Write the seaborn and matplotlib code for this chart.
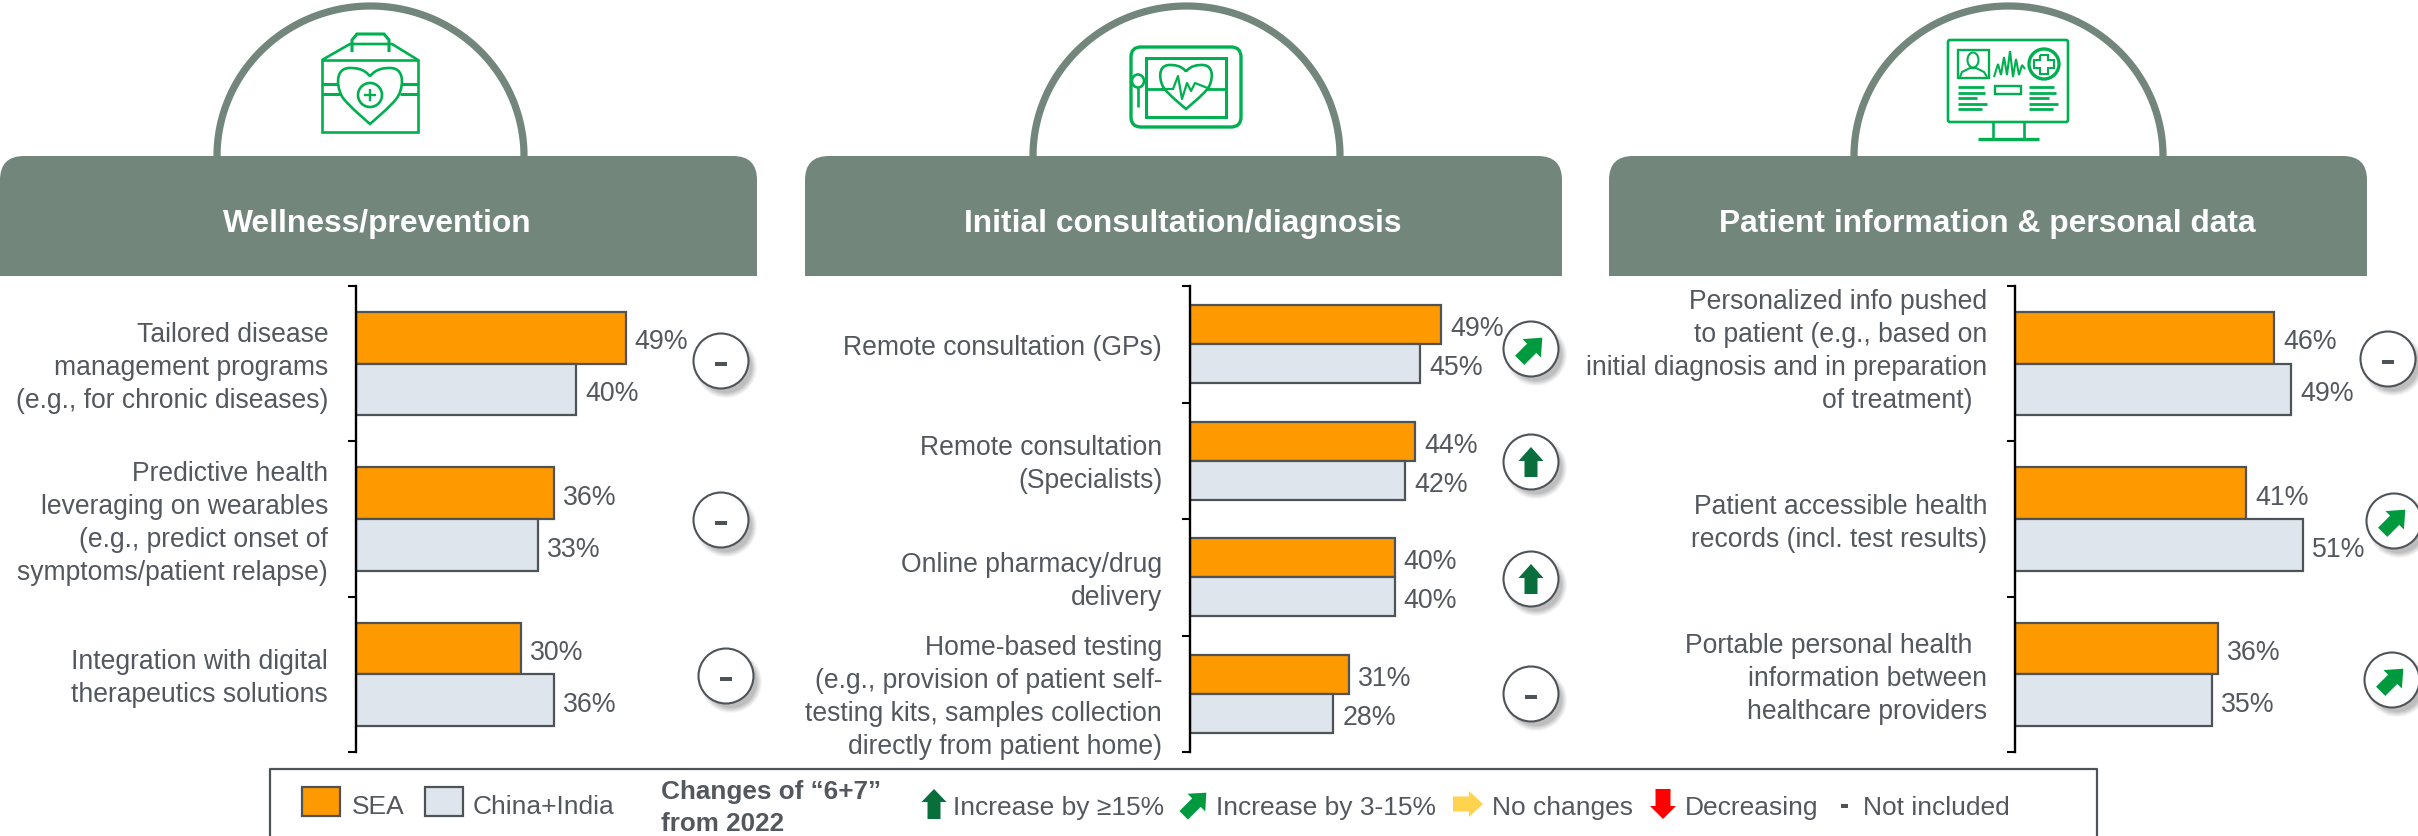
import numpy as np
import pandas as pd
import matplotlib
matplotlib.use("Agg")
import matplotlib.pyplot as plt
import seaborn as sns
from matplotlib.patches import Polygon, Ellipse, Rectangle, FancyBboxPatch, PathPatch, Circle
from matplotlib.path import Path

# ---------- data ----------
series_names = ["SEA", "China+India"]
panel_titles = ["Wellness/prevention", "Initial consultation/diagnosis", "Patient information & personal data"]

labels_wellness = ["Tailored disease\nmanagement programs\n(e.g., for chronic diseases)",
                   "Predictive health\nleveraging on wearables\n(e.g., predict onset of\nsymptoms/patient relapse)",
                   "Integration with digital\ntherapeutics solutions"]
sea_wellness = [49, 36, 30]
ci_wellness = [40, 33, 36]
change_wellness = ["none", "none", "none"]

labels_consult = ["Remote consultation (GPs)",
                  "Remote consultation\n(Specialists)",
                  "Online pharmacy/drug\ndelivery",
                  "Home-based testing\n(e.g., provision of patient self-\ntesting kits, samples collection\ndirectly from patient home)"]
sea_consult = [49, 44, 40, 31]
ci_consult = [45, 42, 40, 28]
change_consult = ["mid", "high", "high", "none"]

labels_patient = ["Personalized info pushed\nto patient (e.g., based on\ninitial diagnosis and in preparation\nof treatment)\u00a0\u00a0\n ",
                  "Patient accessible health\nrecords (incl. test results)",
                  "Portable personal health\u00a0\u00a0\ninformation between\nhealthcare providers"]
sea_patient = [46, 41, 36]
ci_patient = [49, 51, 35]
change_patient = ["none", "mid", "mid"]

legend_changes = ["Increase by \u226515%", "Increase by 3-15%", "No changes", "Decreasing", "Not included"]

# ---------- style ----------
W, H = 2418, 837
ORANGE, GREY = "#FF9900", "#DEE5EC"
EDGE, TXT = "#4E5358", "#53585F"
HEAD = "#72867C"
ICON = "#00B050"
DKGREEN, MIDGREEN, YELLOW, RED = "#086E3C", "#009A3E", "#FFD34D", "#FF0000"
FS = 19

sns.set_theme(style="white")
plt.rcParams["font.family"] = ["Liberation Sans", "DejaVu Sans"]
fig = plt.figure(figsize=(W / 100, H / 100), dpi=100, facecolor="white")

# overlay in pixel coordinates for the decoration
ov = fig.add_axes([0, 0, 1, 1], zorder=0)
ov.set_xlim(0, W); ov.set_ylim(H, 0); ov.axis("off")

def px_ax(x0, x1, y0, y1):
    return fig.add_axes([x0 / W, 1 - y1 / H, (x1 - x0) / W, (y1 - y0) / H], zorder=1, facecolor="none")

def bars(x0, pct_px, cats, sea, ci):
    xmax = 62
    ax = px_ax(x0, x0 + xmax * pct_px, 287, 753)
    df = pd.DataFrame({"cat": list(cats) * 2,
                       "val": list(sea) + list(ci),
                       "series": [series_names[0]] * len(sea) + [series_names[1]] * len(ci)})
    sns.barplot(data=df, y="cat", x="val", hue="series", hue_order=series_names,
                palette=[ORANGE, GREY], width=0.667, gap=0, dodge=True, legend=False,
                edgecolor=EDGE, linewidth=1.6, saturation=1, errorbar=None, ax=ax)
    for c in ax.containers:
        for t in ax.bar_label(c, fmt="%.0f%%", padding=6, color=TXT, fontsize=19.3):
            t.xyann = (6.5, -2.6)
    n = len(cats)
    ax.set_xlim(0, xmax); ax.set_ylim(n - 0.5, -0.5)
    ax.set_xticks([]); ax.set_xlabel(""); ax.set_ylabel("")
    ax.set_yticks(np.arange(n + 1) - 0.5, [""] * (n + 1))
    ax.set_yticks(np.arange(n) + 3.2 * n / 466, cats, minor=True)
    ax.tick_params(axis="y", which="major", length=6, width=1.5, color="black", left=True)
    ax.tick_params(axis="y", which="minor", length=0, pad=20, labelsize=19.1, labelcolor=TXT)
    for t in ax.get_yticklabels(minor=True):
        t.set_linespacing(1.35); t.set_ha("right"); t.set_multialignment("right"); t.set_va("center")
    for s in ["top", "right", "bottom"]:
        ax.spines[s].set_visible(False)
    ax.spines["left"].set_color("black"); ax.spines["left"].set_linewidth(1.7)
    return ax

bars(356, 5.5, labels_wellness, sea_wellness, ci_wellness)
bars(1190, 5.12, labels_consult, sea_consult, ci_consult)
bars(2015, 5.64, labels_patient, sea_patient, ci_patient)

# headers + arches
def header(x0, x1, a0, a1, title):
    t = np.linspace(np.pi, 0, 120)
    cx, rx = (a0 + a1) / 2, (a1 - a0) / 2 - 4
    ov.plot(cx + rx * np.cos(t), 157 - 150 * np.sin(t), color=HEAD, lw=5.2, solid_capstyle="butt", zorder=1)
    r = 24
    verts = [(x0, 277), (x0, 157 + r), (x0, 157), (x0 + r, 157), (x1 - r, 157), (x1, 157), (x1, 157 + r), (x1, 277), (x0, 277)]
    codes = [Path.MOVETO, Path.LINETO, Path.CURVE3, Path.CURVE3, Path.LINETO, Path.CURVE3, Path.CURVE3, Path.LINETO, Path.CLOSEPOLY]
    ov.add_patch(PathPatch(Path(verts, codes), fc=HEAD, ec="none", zorder=2))
    ov.text((x0 + x1) / 2 - 1, 224, title, color="white", fontsize=22.9, fontweight="bold", ha="center", va="center", zorder=3)

header(0, 757, 213, 528, panel_titles[0])
header(805, 1562, 1029, 1344, panel_titles[1])
header(1609, 2367, 1850, 2167, panel_titles[2])

# icons
def ln(xs, ys, lw=1.9):
    ov.plot(xs, ys, color=ICON, lw=lw, solid_capstyle="butt", solid_joinstyle="miter", zorder=3)

def box(x0, y0, x1, y1, lw=1.9, round_=0):
    if round_:
        ov.add_patch(FancyBboxPatch((x0 + round_, y0 + round_), x1 - x0 - 2 * round_, y1 - y0 - 2 * round_,
                                    boxstyle=f"round,pad={round_},rounding_size={round_}", fc="none", ec=ICON, lw=lw, zorder=3))
    else:
        ov.add_patch(Rectangle((x0, y0), x1 - x0, y1 - y0, fc="none", ec=ICON, lw=lw, zorder=3))

def heart(cx, top, bottom, hw, lw=1.9):
    h = bottom - top
    d = top + 0.15 * h
    v2 = [(cx, d), (cx - .2 * hw, top), (cx - .5 * hw, top), (cx - .65 * hw, top),
          (cx - hw * 1.2, top), (cx - hw * 1.05, top + .42 * h), (cx - .85 * hw, top + .55 * h),
          (cx - .6 * hw, top + .72 * h), (cx - .2 * hw, top + .9 * h), (cx, bottom),
          (cx + .2 * hw, top + .9 * h), (cx + .6 * hw, top + .72 * h), (cx + .85 * hw, top + .55 * h),
          (cx + hw * 1.05, top + .42 * h), (cx + hw * 1.2, top), (cx + .65 * hw, top),
          (cx + .5 * hw, top), (cx + .2 * hw, top), (cx, d)]
    c2 = [Path.MOVETO] + [Path.CURVE4] * 18
    ov.add_patch(PathPatch(Path(v2, c2), fc="white", ec=ICON, lw=lw, zorder=4))

# icon 1: medical bag
box(322, 61, 418, 133)
ln([322, 350, 392, 418], [61, 45, 45, 61])
ln([352, 352, 357, 384, 389, 389], [53, 41, 35, 35, 41, 53], lw=2.2)
for yy in (85, 95):
    ln([322, 340], [yy, yy], lw=2.2); ln([400, 418], [yy, yy], lw=2.2)
heart(370, 69, 125, 31)
ov.add_patch(Ellipse((370, 96), 24, 24, fc="white", ec=ICON, lw=1.9, zorder=5))
ln([370, 370], [90, 102], lw=1.7); ln([364, 376], [96, 96], lw=1.7)
for a in ov.lines[-2:]:
    a.set_zorder(6)

# icon 2: monitor with heart
box(1131, 48, 1241, 128, lw=2.4, round_=10)
box(1146, 59, 1226, 118, lw=2.2)
ln([1146, 1226], [90, 90], lw=2)
heart(1186, 66, 110, 25)
a = ov.plot([1162, 1173, 1178, 1182, 1187, 1191, 1195, 1210], [90, 90, 77, 100, 84, 92, 84, 90], color=ICON, lw=1.6, zorder=6)
ov.add_patch(Ellipse((1138, 82), 12, 13, fc="white", ec=ICON, lw=1.9, zorder=5))
ln([1138, 1138], [88, 108])

# icon 3: screen with record
box(1948, 41, 2068, 123, lw=1.9, round_=2)
ln([1993, 1993], [123, 140]); ln([2024, 2024], [123, 140]); ln([1978, 2039], [140, 140], lw=2.4)
box(1958, 51, 1989, 79, lw=1.7)
ov.add_patch(Ellipse((1973, 61), 11, 15, fc="none", ec=ICON, lw=1.5, zorder=3))
ln([1960, 1962, 1970, 1976, 1984, 1987], [78, 73, 69, 69, 73, 78], lw=1.5)
ln([1994, 1998, 2001, 2004, 2007, 2010, 2013, 2016, 2019, 2022, 2025], [78, 65, 76, 58, 76, 52, 78, 60, 76, 66, 70], lw=1.5)
ov.add_patch(Circle((2044, 65), 15, fc="none", ec=ICON, lw=2.4, zorder=3))
ln([2040, 2048, 2048, 2054, 2054, 2048, 2048, 2040, 2040, 2034, 2034, 2040, 2040],
   [56, 56, 61, 61, 69, 69, 75, 75, 69, 69, 61, 61, 56], lw=1.5)
box(1995, 87, 2021, 95, lw=1.7)
for x0, ws in ((1958, (26, 27, 19, 29, 24)), (2029, (25, 27, 20, 29, 24))):
    for yy, w_ in zip((88, 94, 99, 105, 110), ws):
        ln([x0, x0 + w_], [yy, yy], lw=2)

# arrows
def arrow(cx, cy, length, width, head, stem, angle, color, z=6):
    # arrow pointing up at angle 0, rotated clockwise by `angle` degrees (y down)
    L, w, hh, s = length / 2, width / 2, head, stem / 2
    pts = np.array([(0, -L), (w, -L + hh), (s, -L + hh), (s, L), (-s, L), (-s, -L + hh), (-w, -L + hh)], float)
    th = np.deg2rad(angle)
    R = np.array([[np.cos(th), -np.sin(th)], [np.sin(th), np.cos(th)]])
    ov.add_patch(Polygon(pts @ R.T + (cx, cy), closed=True, fc=color, ec="none", zorder=z))

def badge(cx, cy, kind):
    for i, alpha in zip(range(6), (0.05, 0.06, 0.07, 0.08, 0.09, 0.10)):
        r = 31 - i * 1.0
        ov.add_patch(Ellipse((cx + 5, cy + 6), 2 * r, 2 * r, fc="#555555", ec="none", alpha=alpha, zorder=4))
    ov.add_patch(Ellipse((cx, cy), 55, 55, fc="white", ec=EDGE, lw=1.5, zorder=5))
    if kind == "none":
        ov.add_patch(Rectangle((cx - 6, cy + 1), 12, 4, fc=EDGE, ec="none", zorder=6))
    elif kind == "high":
        arrow(cx, cy, 30, 25, 14, 13, 0, DKGREEN)
    elif kind == "mid":
        arrow(cx, cy, 32, 26, 15, 13, 45, MIDGREEN)

for (cx, cy), k in zip([(721, 362), (721, 521), (726, 677)], change_wellness):
    badge(cx, cy, k)
for (cx, cy), k in zip([(1531, 350), (1531, 463), (1531, 580), (1531, 695)], change_consult):
    badge(cx, cy, k)
for (cx, cy), k in zip([(2388, 360), (2394, 522), (2392, 681)], change_patient):
    badge(cx, cy, k)

# legend frame (open at the picture's bottom edge)
ov.plot([270, 270, 2097, 2097], [840, 770, 770, 840], color=EDGE, lw=1.6, zorder=3, clip_on=False)
ov.add_patch(Rectangle((302, 788), 38, 29, fc=ORANGE, ec=EDGE, lw=1.6, zorder=3))
ov.add_patch(Rectangle((425, 788), 38, 29, fc=GREY, ec=EDGE, lw=1.6, zorder=3))
lt = dict(color=TXT, fontsize=FS, va="center", ha="left", zorder=4)
ov.text(352, 807, series_names[0], **lt)
ov.text(473, 807, series_names[1], **lt)
ov.text(661, 792, "Changes of \u201c6+7\u201d", color=TXT, fontsize=18.8, fontweight="bold", va="center", ha="left")
ov.text(661, 824, "from 2022", color=TXT, fontsize=18.8, fontweight="bold", va="center", ha="left")
arrow(934, 805, 30, 25, 13, 13, 0, DKGREEN)
ov.text(953, 808, legend_changes[0], **lt)
arrow(1195, 805, 32, 25, 14, 12, 45, MIDGREEN)
ov.text(1216, 808, legend_changes[1], **lt)
arrow(1468, 805, 30, 26, 14, 15, 90, YELLOW)
ov.text(1492, 808, legend_changes[2], **lt)
arrow(1663, 805, 30, 26, 13, 15, 180, RED)
ov.text(1685, 808, legend_changes[3], **lt)
ov.add_patch(Rectangle((1841, 805), 7, 3.5, fc=EDGE, ec="none"))
ov.text(1863, 808, legend_changes[4], **lt)

fig.savefig("out.png", dpi=100, facecolor="white")
